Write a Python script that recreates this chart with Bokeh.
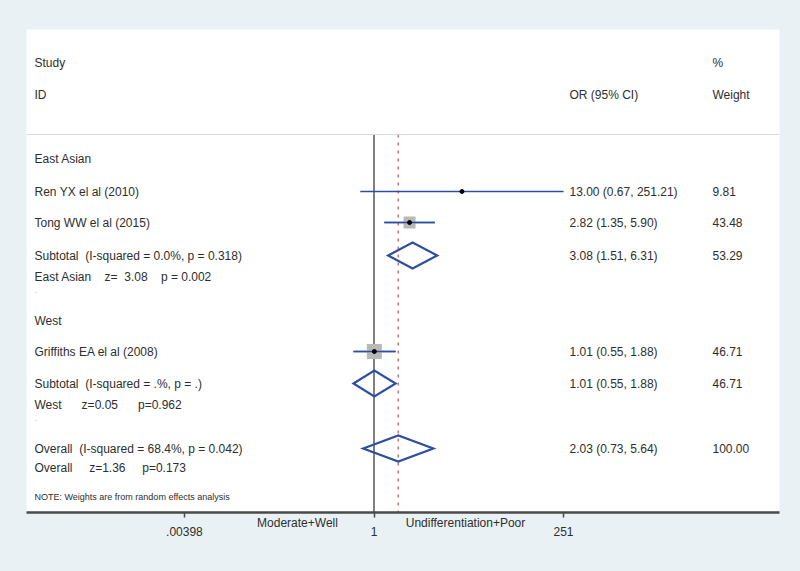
import numpy as np
from bokeh.plotting import figure
from bokeh.models import Range1d, FixedTicker, Span, ColumnDataSource, LinearScale, LinearAxis
from bokeh.core.properties import value
from bokeh.embed import file_html
from bokeh.resources import INLINE

# ---------------- data ----------------
NB = "\u00a0"
group_labels = ["East Asian", "West"]

study_labels = ["Ren YX el al (2010)", "Tong WW el al (2015)", "Griffiths EA el al (2008)"]
study_or = [13.00, 2.82, 1.01]
study_lo = [0.67, 1.35, 0.55]
study_hi = [251.21, 5.90, 1.88]
study_weight = [9.81, 43.48, 46.71]

pooled_labels = ["Subtotal" + NB * 2 + "(I-squared = 0.0%, p = 0.318)",
                 "Subtotal" + NB * 2 + "(I-squared = .%, p = .)",
                 "Overall" + NB * 2 + "(I-squared = 68.4%, p = 0.042)"]
pooled_or = [3.08, 1.01, 2.03]
pooled_lo = [1.51, 0.55, 0.73]
pooled_hi = [6.31, 1.88, 5.64]
pooled_weight = [53.29, 46.71, 100.00]

z_labels = ["East Asian" + NB * 4 + "z=" + NB * 2 + "3.08" + NB * 4 + "p = 0.002",
            "West" + NB * 6 + "z=0.05" + NB * 6 + "p=0.962",
            "Overall" + NB * 5 + "z=1.36" + NB * 5 + "p=0.173"]

tick_values = [0.00398, 1, 251]
tick_labels = [".00398", "1", "251"]
side_labels = ["Moderate+Well", "Undifferentiation+Poor"]
note_text = "NOTE: Weights are from random effects analysis"
header_left = ["Study", "ID"]
header_or = "OR (95% CI)"
header_w = ["%", "Weight"]

# ---------------- layout / style ----------------
W, H = 800, 571
BL, BR, BT, BB = 26, 21, 29, 59
FW, FH = W - BL - BR, H - BT - BB
PX_PER_LN = 34.3
X_NULL_PX = 347.5
x_start = float(np.exp(-X_NULL_PX / PX_PER_LN))
x_end = float(np.exp((FW - X_NULL_PX) / PX_PER_LN))

BG = "#e9f1f4"
TXT = "#2e2e2e"
BLUE = "#2d4f9f"
BOXC = "#b8b8b8"
FONT = value("Liberation Sans")

X_LEFT, X_OR, X_W = 8, 543, 686
Y_HEAD = [33, 65]
Y_SEP = 105
Y_GROUP = [129, 291]
Y_STUDY = [162, 193, 322]
Y_POOLED = [226, 354, 419]
Y_Z = [247, 375, 438]
Y_DOTS = [261, 389]
Y_NOTE = 467
BOX_SIZES = [0, 12, 15]
DIAMOND_HALF = 13
SIDE_X = [271, 439]

p = figure(width=W, height=H, output_backend="svg", toolbar_location=None,
           x_axis_type="log", y_axis_location=None,
           x_range=Range1d(x_start, x_end), y_range=Range1d(FH, 0),
           min_border_left=BL, min_border_right=BR, min_border_top=BT, min_border_bottom=BB,
           background_fill_color="white", border_fill_color=BG, outline_line_color=None)
p.extra_x_ranges = {"px": Range1d(0, FW)}
p.extra_x_scales = {"px": LinearScale()}
p.xgrid.visible = False
p.ygrid.visible = False

ax = p.xaxis[0]
ax.ticker = FixedTicker(ticks=tick_values)
ax.major_label_overrides = {v: l for v, l in zip(tick_values, tick_labels)}
ax.axis_line_width = 2.5
ax.axis_line_color = "#4a4a4a"
ax.major_tick_line_color = "#4a4a4a"
ax.major_tick_line_width = 1.5
ax.major_tick_out = 5
ax.major_tick_in = 0
ax.minor_tick_line_color = None
ax.major_label_standoff = 9
ax.major_label_text_font = "Liberation Sans"
ax.major_label_text_font_size = "12px"
ax.major_label_text_color = TXT

# side descriptions under the axis (second axis on the pixel range)
side_ax = LinearAxis(x_range_name="px", ticker=FixedTicker(ticks=SIDE_X),
                     major_label_overrides={x: l for x, l in zip(SIDE_X, side_labels)},
                     axis_line_color=None, major_tick_line_color=None, minor_tick_line_color=None,
                     major_tick_out=0, major_tick_in=0, major_label_standoff=-23,
                     major_label_text_font="Liberation Sans", major_label_text_font_size="12px",
                     major_label_text_color=TXT)
p.add_layout(side_ax, "below")

# header separator
p.add_layout(Span(location=Y_SEP, dimension="width", line_color="#d9d9d9", line_width=1))

# null line and overall dashed line
p.segment(x0=[1], y0=[Y_SEP], x1=[1], y1=[FH], line_color="#555555", line_width=1.5)
p.segment(x0=[pooled_or[-1]], y0=[Y_SEP], x1=[pooled_or[-1]], y1=[FH],
          line_color="#cf6f74", line_width=1.5, line_dash="3 5")

# study CIs
p.segment(x0=study_lo, y0=Y_STUDY, x1=study_hi, y1=Y_STUDY, line_color=BLUE, line_width=1.6)
bx = [o for o, s in zip(study_or, BOX_SIZES) if s > 0]
by = [y for y, s in zip(Y_STUDY, BOX_SIZES) if s > 0]
bs = [s for s in BOX_SIZES if s > 0]
p.scatter(x=bx, y=by, size=bs, marker="square", fill_color=BOXC, line_color=None)
p.segment(x0=[l for l, s in zip(study_lo, BOX_SIZES) if s > 0], y0=by,
          x1=[h for h, s in zip(study_hi, BOX_SIZES) if s > 0], y1=by, line_color=BLUE, line_width=1.6)
p.scatter(x=study_or, y=Y_STUDY, size=4, marker="circle", fill_color="black", line_color="black")

# pooled diamonds
dxs = [[lo, e, hi, e, lo] for lo, e, hi in zip(pooled_lo, pooled_or, pooled_hi)]
dys = [[y, y - DIAMOND_HALF, y, y + DIAMOND_HALF, y] for y in Y_POOLED]
p.patches(xs=dxs, ys=dys, fill_color=None, line_color=BLUE, line_width=2.2, line_join="miter")

def txt(xs, ys, texts, size="12px", color=TXT, align="left"):
    src = ColumnDataSource(dict(x=xs, y=ys, t=texts))
    p.text(x="x", y="y", text="t", source=src, x_range_name="px",
           text_font=FONT, text_font_size=size, text_color=color,
           text_align=align, text_baseline="middle")

fmt = lambda e, lo, hi: f"{e:.2f} ({lo:.2f}, {hi:.2f})"

txt([X_LEFT] * 2, Y_HEAD, header_left)
txt([X_OR], [Y_HEAD[1]], [header_or])
txt([X_W] * 2, Y_HEAD, header_w)
txt([X_LEFT] * 2, Y_GROUP, group_labels)
txt([X_LEFT] * 3, Y_STUDY, study_labels)
txt([X_OR] * 3, Y_STUDY, [fmt(*t) for t in zip(study_or, study_lo, study_hi)])
txt([X_W] * 3, Y_STUDY, [f"{w:.2f}" for w in study_weight])
txt([X_LEFT] * 3, Y_POOLED, pooled_labels)
txt([X_OR] * 3, Y_POOLED, [fmt(*t) for t in zip(pooled_or, pooled_lo, pooled_hi)])
txt([X_W] * 3, Y_POOLED, [f"{w:.2f}" for w in pooled_weight])
txt([X_LEFT] * 3, Y_Z, z_labels)
txt([X_LEFT] * 2, Y_DOTS, ["."] * 2, size="8px", color="#aaaaaa")
txt([X_LEFT], [Y_NOTE], [note_text], size="9px")

html = file_html(p, INLINE)
html = html.replace("<head>", "<head><style>body{background:%s;}</style>" % BG, 1)
open("out.html", "w").write(html)
